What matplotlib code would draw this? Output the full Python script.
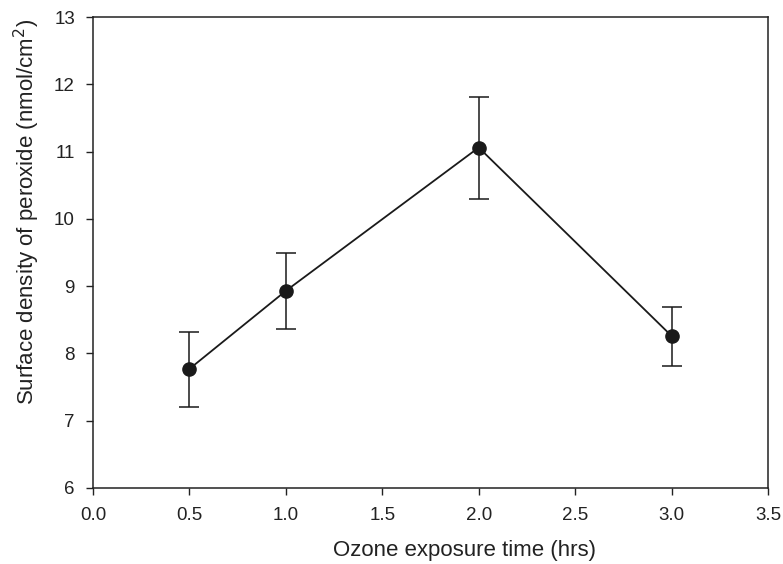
import numpy as np
import matplotlib.pyplot as plt

plt.rcParams["font.family"] = ["Liberation Sans", "DejaVu Sans"]

# values
time_hrs   = [0.5, 1.0, 2.0, 3.0]
peroxide   = [7.77, 8.93, 11.06, 8.26]
err_upper  = [8.32, 9.49, 11.81, 8.69]
err_lower  = [7.21, 8.37, 10.30, 7.82]

x_ticks = [0.0, 0.5, 1.0, 1.5, 2.0, 2.5, 3.0, 3.5]
y_ticks = [6, 7, 8, 9, 10, 11, 12, 13]

yerr = np.array([
    np.array(peroxide) - np.array(err_lower),
    np.array(err_upper) - np.array(peroxide),
])

fig = plt.figure(figsize=(7.83, 5.64), dpi=100)
ax = fig.add_axes([93 / 783, 1 - 488 / 564, (768 - 93) / 783, (488 - 17) / 564])

ax.errorbar(time_hrs, peroxide, yerr=yerr, color="#1a1a1a", ecolor="#1a1a1a",
            elinewidth=1.1, capsize=7, capthick=1.1, linewidth=1.3,
            marker="o", markersize=9.5, markerfacecolor="#1a1a1a",
            markeredgecolor="#1a1a1a", zorder=3)

ax.set_xlim(0.0, 3.5)
ax.set_ylim(6, 13)
ax.set_xticks(x_ticks)
ax.set_xticklabels([f"{t:.1f}" for t in x_ticks])
ax.set_yticks(y_ticks)

ax.tick_params(direction="out", length=5, width=1, labelsize=13.5,
               colors="#222222")
ax.tick_params(axis="x", pad=9)
ax.tick_params(axis="y", pad=8)
for s in ax.spines.values():
    s.set_linewidth(1.1)
    s.set_color("#222222")

ax.set_xlabel("Ozone exposure time (hrs)", fontsize=16, color="#222222", labelpad=13)
ax.set_ylabel("Surface density of peroxide (nmol/cm$^2$)", fontsize=16,
              color="#222222", labelpad=9)
# labels sit a little off-centre in the original
ax.xaxis.set_label_coords(0.55, -0.11)
ax.yaxis.label.set_y(0.585)

fig.savefig("out.png", dpi=100)
